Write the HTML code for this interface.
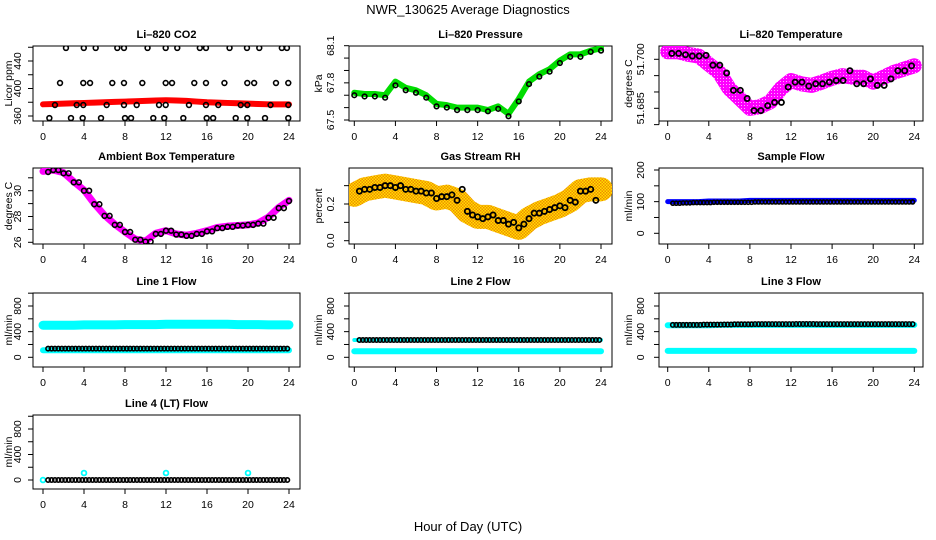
<!DOCTYPE html>
<html><head><meta charset="utf-8">
<style>
html,body{margin:0;padding:0;background:#fff;}
svg{display:block;font-family:"Liberation Sans",Arial,sans-serif;}
</style></head>
<body>
<svg id="chart" width="936" height="540" viewBox="0 0 936 540">
<defs>
<pattern id="rhpat" width="3" height="3" patternUnits="userSpaceOnUse">
<rect width="3" height="3" fill="#ffe000"/><rect width="1.5" height="1.5" fill="#f08c00"/><rect x="1.5" y="1.5" width="1.5" height="1.5" fill="#f08c00"/>
</pattern>
<pattern id="tmpat" width="3" height="3" patternUnits="userSpaceOnUse">
<rect width="3" height="3" fill="#ff00ff"/><rect width="1" height="1" fill="#ffb0ff"/>
</pattern>
</defs>
<text x="468" y="14" text-anchor="middle" font-size="13">NWR_130625  Average Diagnostics</text>
<text x="468" y="531" text-anchor="middle" font-size="13">Hour of Day (UTC)</text>
</svg>
<script>
// ---------- data ----------
const hours = [0,1,2,3,4,5,6,7,8,9,10,11,12,13,14,15,16,17,18,19,20,21,22,23,24];
const xTicks = [0,4,8,12,16,20,24];
const co2Red = [377,377.5,378,378.5,379,379.5,380,380.5,381,381.5,382,382.5,383,382.5,382,381,380,379.5,379,378.5,378,377.5,377,377,377];
const co2BlackT = [2.24,3.98,5.14,7.25,7.9,10.2,11.97,13.1,15.3,15.9,18.2,19.9,21.1,23.3,23.8,
 1.66,3.93,4.59,6.76,7.9,9.69,11.97,12.59,14.76,15.9,17.7,19.93,20.6,22.73,23.93,
 1.17,3.29,3.93,6.21,7.9,9.14,11.32,11.97,14.24,15.9,17.1,19.29,19.93,22.2,23.93,
 0.62,2.73,3.87,5.66,8.0,8.59,10.76,11.83,13.69,15.97,16.6,18.8,19.93,21.66,23.93];
const co2BlackV = [459,459,459,459,459,459,459,459,459,459,459,459,459,459,459,
 408,408,408,408,408,408,408,408,408,408,408,408,408,408,408,
 376,376,376,376,376,376,376,376,376,376,376,376,376,376,376,
 357,357,357,357,357,357,357,357,357,357,357,357,357,357,357];
const pressGreen = [67.72,67.71,67.71,67.70,67.81,67.76,67.74,67.70,67.63,67.62,67.60,67.60,67.60,67.58,67.61,67.55,67.67,67.81,67.87,67.91,67.98,68.03,68.03,68.06,68.08];
const pressBlack = [67.70,67.69,67.69,67.68,67.78,67.74,67.72,67.68,67.61,67.60,67.58,67.58,67.58,67.57,67.59,67.53,67.65,67.79,67.85,67.89,67.96,68.01,68.01,68.05,68.06];
const tempMag = [51.7023,51.7023,51.7015,51.701,51.6985,51.696,51.691,51.688,51.685,51.6855,51.687,51.691,51.6935,51.6925,51.692,51.693,51.6942,51.695,51.6945,51.6945,51.693,51.6945,51.696,51.697,51.698];
const tempBlack = [51.7018,51.7014,51.701,51.7012,51.6982,51.6958,51.6905,51.6880,51.6843,51.6858,51.6868,51.6915,51.6930,51.6918,51.6925,51.6930,51.6935,51.6965,51.6925,51.6940,51.6920,51.6940,51.6965,51.6980,51.6990];
const ambMag = [31.5,31.6,31.4,30.7,30.05,29.0,28.1,27.4,26.8,26.25,26.1,26.7,26.9,26.65,26.55,26.7,26.9,27.15,27.25,27.3,27.35,27.5,27.95,28.7,29.25];
const ambBlack = [31.45,31.6,31.35,30.65,30.0,28.95,28.05,27.35,26.8,26.2,26.05,26.65,26.9,26.6,26.5,26.65,26.85,27.1,27.2,27.3,27.35,27.45,27.9,28.65,29.2];
const rhBand = [0.25,0.28,0.29,0.30,0.29,0.28,0.27,0.26,0.23,0.24,0.22,0.16,0.13,0.13,0.11,0.09,0.07,0.12,0.15,0.17,0.19,0.22,0.27,0.28,0.28];
const rhBlack = [0.27,0.28,0.29,0.30,0.30,0.28,0.27,0.26,0.24,0.25,0.28,0.14,0.12,0.14,0.11,0.10,0.09,0.15,0.16,0.18,0.18,0.21,0.27,0.22,0.24];
const sampleBlue = [100,100,100,100,102,102,102,102,104,104,104,104,104,104,104,104,104,104,104,104,104,104,104,104,104];
const sampleBlack = [95,96,97,97,98,98,98,98,99,99,99,99,99,99,99,99,99,99,99,99,99,99,99,99,99];
const l1Cyan = [500,500,500,500,505,505,505,505,510,510,510,510,515,515,515,515,515,515,515,510,510,510,505,505,505];
const l1CyanLow = [110,110,110,110,110,110,110,110,110,110,110,110,110,110,110,110,110,110,110,110,110,110,110,110,110];
const l1Black = [135,135,135,135,135,135,135,135,135,135,135,135,135,135,135,135,135,135,135,135,135,135,135,135,135];
const l2CyanHigh = [270,270,270,270,270,270,270,270,270,270,270,270,270,270,270,270,270,270,270,270,270,270,270,270,270];
const l2CyanLow = [95,95,95,95,95,95,95,95,95,95,95,95,95,95,95,95,95,95,95,95,95,95,95,95,95];
const l2Black = [270,270,270,270,270,270,270,270,270,270,270,270,270,270,270,270,270,270,270,270,270,270,270,270,270];
const l3CyanHigh = [500,500,500,500,500,505,505,505,505,505,505,505,505,505,505,505,505,505,505,505,505,505,505,505,505];
const l3CyanLow = [100,100,100,100,100,100,100,100,100,100,100,100,100,100,100,100,100,100,100,100,100,100,100,100,100];
const l3Black = [505,505,505,510,510,512,515,515,518,518,518,518,520,520,518,518,518,518,518,518,518,518,518,518,520];
const l4Black = [0,0,0,0,0,0,0,0,0,0,0,0,0,0,0,0,0,0,0,0,0,0,0,0,0];
const l4CyanT = [0,4,12,20];
const l4CyanV = [0,110,110,110];

// ---------- layout ----------
const cols = [{l:33,r:300,x0:43,x24:289,lab:17,ylab:8},{l:349,r:612,x0:354.3,x24:601,lab:330,ylab:318},{l:659,r:923,x0:667.7,x24:914.3,lab:640,ylab:628}];
const rows = [{t:46,b:121},{t:168,b:244},{t:293,b:367},{t:415,b:489}];
const svg = document.getElementById('chart');
const NS = 'http://www.w3.org/2000/svg';
function mk(tag, attrs, parent){ const e=document.createElementNS(NS,tag); for(const k in attrs) e.setAttribute(k,attrs[k]); (parent||svg).appendChild(e); return e; }

function panel(ci, ri, title, ylab, ymap, ticks, labels, name){
  const c=cols[ci], r=rows[ri];
  const g=mk('g',{});
  
  
  const sx=t=>c.x0+t*(c.x24-c.x0)/24;
  const sy=v=>ymap[1]+(v-ymap[0])*(ymap[3]-ymap[1])/(ymap[2]-ymap[0]);
  const box=mk('rect',{x:c.l,y:r.t,width:c.r-c.l,height:r.b-r.t,fill:'none',stroke:'#000','stroke-width':1},g);
  
  
  const tt=mk('text',{x:(c.l+c.r)/2,y:r.t-8,'text-anchor':'middle','font-size':11,'font-weight':'bold'},g);
  tt.textContent=title;
  
  
  const xa=mk('g',{},g);
  
  
  mk('line',{x1:sx(0),x2:sx(24),y1:r.b,y2:r.b,stroke:'#000'},xa);
  xTicks.forEach(t=>{
    mk('line',{x1:sx(t),x2:sx(t),y1:r.b,y2:r.b+5,stroke:'#000'},xa);
    const l=mk('text',{x:sx(t),y:r.b+19,'text-anchor':'middle','font-size':10.5},xa);
    l.textContent=t;
    
    
  });
  const ya=mk('g',{},g);
  
  
  mk('line',{x1:c.l,x2:c.l,y1:sy(ticks[0]),y2:sy(ticks[ticks.length-1]),stroke:'#000'},ya);
  ticks.forEach(v=>mk('line',{x1:c.l-5,x2:c.l,y1:sy(v),y2:sy(v),stroke:'#000'},ya));
  labels.forEach(v=>{
    const y=sy(parseFloat(v));
    const l=mk('text',{x:c.lab+4,y:y,'text-anchor':'middle','font-size':10.5,transform:`rotate(-90 ${c.lab+4} ${y})`},ya);
    l.textContent=v;
    
    
  });
  const ym=(r.t+r.b)/2;
  const yl=mk('text',{x:c.ylab+4,y:ym,'text-anchor':'middle','font-size':10.5,transform:`rotate(-90 ${c.ylab+4} ${ym})`},g);
  yl.textContent=ylab;
  
  
  const clip='clip'+ci+ri;
  const cp=mk('clipPath',{id:clip},g); mk('rect',{x:c.l,y:r.t,width:c.r-c.l,height:r.b-r.t},cp);
  const data=mk('g',{'clip-path':`url(#${clip})`},g);
  
  
  return {sx,sy,data};
}
function band(p, ts, vs, color, w, name){
  const pts=ts.map((t,i)=>p.sx(t)+','+p.sy(vs[i])).join(' ');
  const pl=mk('polyline',{points:pts,fill:'none',stroke:color,'stroke-width':w,'stroke-linejoin':'round','stroke-linecap':'round'},p.data);
  
  
}
function circles(p, ts, vs, color, r, name, sw){
  ts.forEach((t,i)=>{
    const c=mk('circle',{cx:p.sx(t),cy:p.sy(vs[i]),r:r||2.4,fill:'none',stroke:color,'stroke-width':sw||1.6},p.data);
    
    
  });
}
function triple(vs, start){
  const ts=[],out=[];
  for(let i=0;i<24;i++){ for(let k=0;k<3;k++){ const t=i+start+k/3; if(t<=23.95){ts.push(t);out.push(vs[i]);} } }
  return [ts,out];
}

let p=panel(0,0,'Li\u2013820 CO2','Licor ppm',[360,116,440,61],[360,380,400,420,440,460],['360','400','440'],'co2');
band(p,hours,co2Red,'#ff0000',6,'co2-red-band');
circles(p,co2BlackT,co2BlackV,'#000',2.4,'co2-point');

p=panel(1,0,'Li\u2013820 Pressure','kPa',[67.5,120,68.1,45.7],[67.5,67.6,67.7,67.8,67.9,68.0,68.1],['67.5','67.8','68.1'],'pressure');
band(p,hours,pressGreen,'#00dd00',6,'pressure-green-band');
circles(p,hours,pressBlack,'#000',2.3,'pressure-point');

p=panel(2,0,'Li\u2013820 Temperature','degrees C',[51.685,108.3,51.700,59.3],[51.680,51.685,51.690,51.695,51.700],['51.685','51.700'],'licor-temp');
band(p,hours,tempMag,'url(#tmpat)',15,'temp-magenta-band');
circles(p,hours,tempMag,'#ff00ff',2.6,'temp-magenta-point');
let tr=triple(tempBlack,0.4); circles(p,tr[0].filter((t,i)=>i%2==0),tr[1].filter((t,i)=>i%2==0),'#000',2.6,'temp-point',1.8);

p=panel(0,1,'Ambient Box Temperature','degrees C',[26,242.3,30,190.7],[26,27,28,29,30,31],['26','28','30'],'ambient');
band(p,hours,ambMag,'#ff00ff',7,'ambient-magenta-band');
circles(p,hours.map(h=>h+0.5).slice(0,24),ambBlack.slice(0,24),'#000',2.4,'ambient-point');
circles(p,hours.slice(1),ambBlack.slice(1),'#000',2.4,'ambient-point');

p=panel(1,1,'Gas Stream RH','percent',[0,240.7,0.2,204],[0,0.1,0.2,0.3],['0.0','0.2'],'rh');
band(p,hours,rhBand,'url(#rhpat)',24,'rh-band');
circles(p,hours.slice(0,24).map(h=>h+0.5),rhBlack.slice(0,24),'#000',2.6,'rh-point',1.8);
circles(p,hours.slice(1,24),rhBand.slice(1,24),'#000',2.6,'rh-point',1.8);

p=panel(2,1,'Sample Flow','ml/min',[0,233.3,200,170],[0,50,100,150,200],['0','100','200'],'sample-flow');
band(p,hours,sampleBlue,'#0000ff',5,'sample-blue-band');
tr=triple(sampleBlack,0.5); circles(p,tr[0],tr[1],'#000',2,'sample-point');
const flowTicks=[0,200,400,600,800,1000];

p=panel(0,2,'Line 1 Flow','ml/min',[0,357.3,800,306],flowTicks,['0','400','800'],'line1');
band(p,hours,l1Cyan,'#00ffff',9,'line1-cyan-high');
band(p,hours,l1CyanLow,'#00ffff',6,'line1-cyan-low');
tr=triple(l1Black,0.5); circles(p,tr[0],tr[1],'#000',2.2,'line1-point');

p=panel(1,2,'Line 2 Flow','ml/min',[0,357.3,800,306],flowTicks,['0','400','800'],'line2');
band(p,hours,l2CyanHigh,'#00ffff',4,'line2-cyan-high');
band(p,hours,l2CyanLow,'#00ffff',6,'line2-cyan-low');
tr=triple(l2Black,0.5); circles(p,tr[0],tr[1],'#000',2.2,'line2-point');

p=panel(2,2,'Line 3 Flow','ml/min',[0,357.3,800,306],flowTicks,['0','400','800'],'line3');
band(p,hours,l3CyanHigh,'#00ffff',6,'line3-cyan-high');
band(p,hours,l3CyanLow,'#00ffff',6,'line3-cyan-low');
tr=triple(l3Black,0.5); circles(p,tr[0],tr[1],'#000',2.2,'line3-point');

p=panel(0,3,'Line 4 (LT) Flow','ml/min',[0,480,800,429],flowTicks,['0','400','800'],'line4');
circles(p,l4CyanT,l4CyanV,'#00ffff',2.4,'line4-cyan-point',1.8);
tr=triple(l4Black,0.5); circles(p,tr[0],tr[1],'#000',2.2,'line4-point');
</script>
</body></html>
